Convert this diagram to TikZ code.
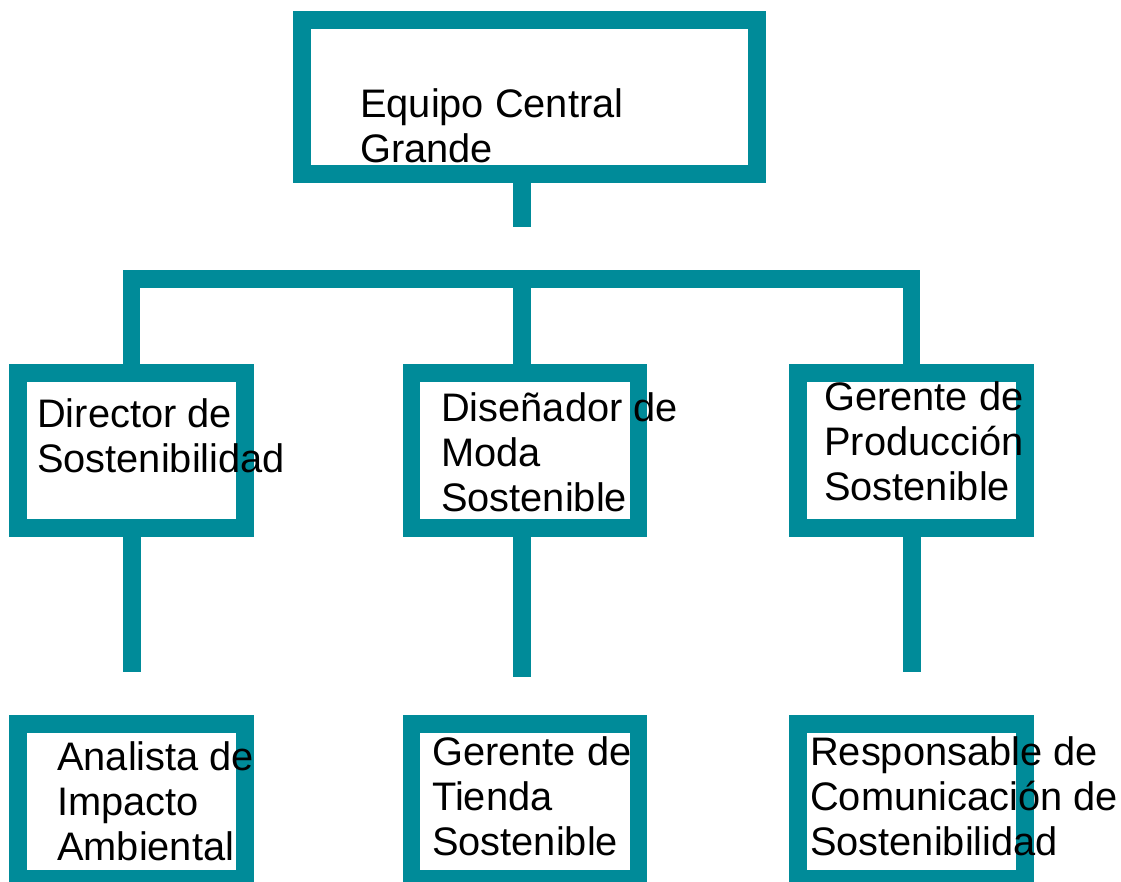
\documentclass[tikz,border=0pt]{standalone}
\usepackage{fontspec}
\setmainfont{Liberation Sans}
\definecolor{tealline}{RGB}{0,139,153}
\begin{document}
\begin{tikzpicture}[x=1pt,y=-1pt, main/.style = {draw=tealline, line width=17.5pt, rectangle, minimum width=227pt, minimum height=155pt, inner sep=0pt}, link/.style = {draw=tealline, line width=17.5pt}, txt/.style = {anchor=base west, align=left, inner sep=0pt, font=\fontsize{39.8}{45}\selectfont}]
                \useasboundingbox (0,0) rectangle (1121,881);
                \clip (0,0) rectangle (1121,881);
                \node[main, minimum width=455pt, minimum height=154pt] (1) at (529.5,97) {};
                \node[main] (2) at (131.5,450.5) {};
                \node[main] (3) at (525,450.5) {};
                \node[main] (4) at (911.5,450.5) {};
                \node[main] (5) at (131.5,801.5) {};
                \node[main] (6) at (525,801.5) {};
                \node[main] (7) at (911.5,801.5) {};
                \coordinate (s1) at (522,227);
                \coordinate (bar) at (522,279);
                \coordinate (s2) at (132,672);
                \coordinate (s3) at (522,677);
                \coordinate (s4) at (912,672);
                \path[link]
                    (s1 |- 1.south) edge (s1)
                    (bar) edge (bar |- 3.north)
                    (s2 |- 2.south) edge (s2)
                    (s3 |- 3.south) edge (s3)
                    (s4 |- 4.south) edge (s4);
                \draw[link] (2.north) |- (bar) -| (4.north);
                \node[txt] (t1) at (360,162) {Equipo Central\\Grande};
                \node[txt] (t2) at (37,472) {Director de\\Sostenibilidad};
                \node[txt] (t3) at (441,511) {Diseñador de\\Moda\\Sostenible};
                \node[txt] (t4) at (824,500) {Gerente de\\Producción\\Sostenible};
                \node[txt] (t5) at (57,860) {Analista de\\Impacto\\Ambiental};
                \node[txt] (t6) at (432,855) {Gerente de\\Tienda\\Sostenible};
                \node[txt] (t7) at (810,855) {Responsable de\\Comunicación de\\Sostenibilidad};
            \end{tikzpicture}
\end{document}
